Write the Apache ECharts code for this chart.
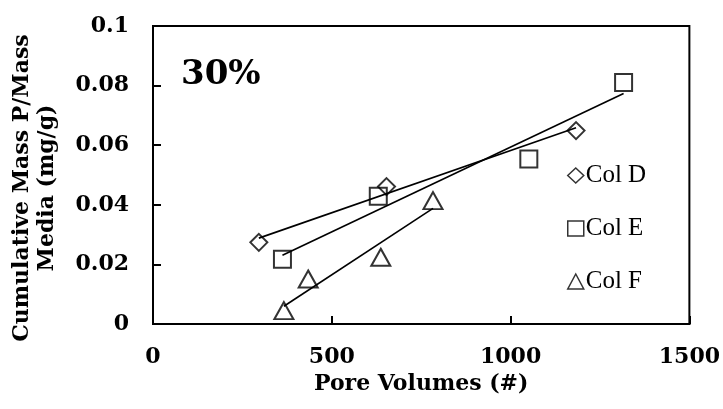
<!DOCTYPE html>
<html>
<head>
<meta charset="utf-8">
<script src="https://cdn.jsdelivr.net/npm/echarts@6/dist/echarts.min.js"></script>
<style>
  html, body { margin: 0; padding: 0; background: #fff; }
  #chart { width: 723px; height: 409px; }
</style>
</head>
<body>
<div id="chart"></div>
<script>
// Pore volumes (x) and cumulative P mass per media mass (y) for each column
const colDX = [296, 653, 1183];
const colDY = [0.0274, 0.0461, 0.0649];
const colEX = [362, 630, 1051, 1316];
const colEY = [0.0217, 0.0429, 0.0554, 0.081];
const colFX = [366, 434, 637, 783];
const colFY = [0.0045, 0.0151, 0.0224, 0.0414];

const seriesNames = ['Col D', 'Col E', 'Col F'];
const seriesSymbols = ['diamond', 'rect', 'triangle'];

const xTickLabels = ['0', '500', '1000', '1500'];
const yTickLabels = ['0', '0.02', '0.04', '0.06', '0.08', '0.1'];

const panelLabel = '30%';
const xTitle = 'Pore Volumes (#)';
const yTitle = 'Cumulative Mass P/Mass\nMedia (mg/g)';

const boldFont = 'DejaVu Serif';
const plainFont = 'Liberation Serif';

function pairs(xs, ys) {
  return xs.map((x, i) => [x, ys[i]]);
}

// Least-squares linear trend, drawn across the span of the series' x values
function trend(xs, ys) {
  const n = xs.length;
  const mx = xs.reduce((a, b) => a + b, 0) / n;
  const my = ys.reduce((a, b) => a + b, 0) / n;
  let sxy = 0, sxx = 0;
  for (let i = 0; i < n; i++) {
    sxy += (xs[i] - mx) * (ys[i] - my);
    sxx += (xs[i] - mx) * (xs[i] - mx);
  }
  const k = sxy / sxx;
  const b = my - k * mx;
  const x0 = Math.min(...xs), x1 = Math.max(...xs);
  return [[x0, k * x0 + b], [x1, k * x1 + b]];
}

const groups = [[colDX, colDY], [colEX, colEY], [colFX, colFY]];
const markerSizes = [[17, 17], 17, [19, 17]];

const series = [];
groups.forEach((g, i) => {
  series.push({
    name: seriesNames[i],
    type: 'scatter',
    symbol: seriesSymbols[i],
    symbolSize: markerSizes[i],
    data: pairs(g[0], g[1]),
    itemStyle: { color: 'transparent', borderColor: '#000', borderWidth: 2 },
    emphasis: { disabled: true },
    z: 3
  });
  series.push({
    name: seriesNames[i] + ' trend',
    type: 'line',
    data: trend(g[0], g[1]),
    showSymbol: false,
    symbol: 'none',
    lineStyle: { color: '#000', width: 1.6 },
    emphasis: { disabled: true },
    silent: true,
    z: 4
  });
});

const chart = echarts.init(document.getElementById('chart'), null, { renderer: 'canvas' });

chart.setOption({
  animation: false,
  backgroundColor: '#fff',
  grid: {
    left: 153, right: 33, top: 26, bottom: 85,
    show: true, borderColor: '#000', borderWidth: 2, backgroundColor: 'transparent'
  },
  legend: {
    orient: 'vertical',
    left: 562,
    top: 158,
    itemGap: 28,
    itemWidth: 16,
    itemHeight: 15,
    selectedMode: false,
    data: seriesNames.map((n, i) => ({
      name: n,
      icon: seriesSymbols[i],
      itemStyle: { color: 'transparent', borderColor: '#000', borderWidth: 1.5 }
    })),
    textStyle: { fontFamily: plainFont, fontSize: 25, color: '#000', lineHeight: 25, padding: [0, 0, 0, -3] }
  },
  xAxis: {
    type: 'value',
    min: 0, max: 1500, interval: 500,
    name: xTitle,
    nameLocation: 'middle',
    nameGap: 47,
    nameTextStyle: { fontFamily: boldFont, fontWeight: 'bold', fontSize: 22, color: '#000' },
    axisLine: { show: true, lineStyle: { color: '#000', width: 2 } },
    axisTick: { show: true, inside: true, length: 8, lineStyle: { color: '#000', width: 2 } },
    axisLabel: {
      margin: 22,
      fontFamily: boldFont, fontWeight: 'bold', fontSize: 22, color: '#000',
      formatter: v => xTickLabels[Math.round(v / 500)]
    },
    splitLine: { show: false }
  },
  yAxis: {
    type: 'value',
    min: 0, max: 0.1, interval: 0.02,
    axisLine: { show: true, lineStyle: { color: '#000', width: 2 } },
    axisTick: { show: true, inside: true, length: 8, lineStyle: { color: '#000', width: 2 } },
    axisLabel: {
      margin: 24,
      fontFamily: boldFont, fontWeight: 'bold', fontSize: 22, color: '#000',
      formatter: v => yTickLabels[Math.round(v / 0.02)]
    },
    splitLine: { show: false }
  },
  graphic: [
    {
      type: 'text',
      left: 181,
      top: 58,
      style: {
        text: panelLabel,
        font: 'bold 34px "' + boldFont + '"',
        fill: '#000'
      }
    },
    {
      type: 'text',
      x: 35,
      y: 188,
      rotation: Math.PI / 2,
      style: {
        text: yTitle,
        font: 'bold 22px "' + boldFont + '"',
        lineHeight: 25,
        align: 'center',
        verticalAlign: 'middle',
        fill: '#000'
      }
    }
  ],
  series: series
});
</script>
</body>
</html>
